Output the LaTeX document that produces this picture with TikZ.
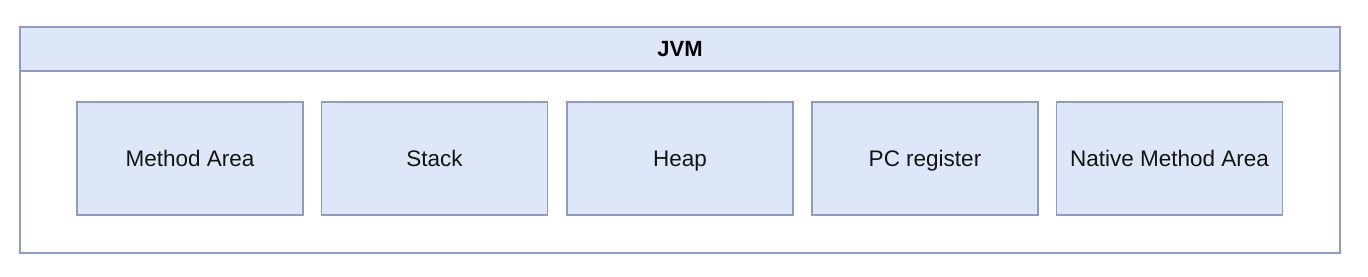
\documentclass[tikz,border=0pt]{standalone}
\usepackage{fontspec}
\setmainfont{Liberation Sans}
\definecolor{boxfill}{HTML}{DDE7F8}
\definecolor{boxline}{HTML}{8E9DBD}
\begin{document}
\begin{tikzpicture}[x=1pt,y=-1pt,
  region/.style={draw=boxline,fill=boxfill,line width=1.6pt,minimum width=226pt,minimum height=113pt,inner sep=0pt,font=\fontsize{22.5}{27}\selectfont,text=black!92,text height=20.6pt,text depth=4.5pt},
  container/.style={draw=boxline,line width=1.6pt,fill=white},
  header/.style={draw=boxline,fill=boxfill,line width=1.6pt}]
\useasboundingbox[fill=white] (0,0) rectangle (1368,276);
\draw[container] (20,27) rectangle (1340,253);
\draw[header] (20,27) rectangle (1340,71);
\node[font=\fontsize{22}{26}\selectfont\bfseries,text=black,inner sep=0pt,text height=20.2pt,text depth=4.4pt] (jvm) at (680,49) {JVM};
\node[region] (method) at (190,158.5) {Method Area};
\node[region] (stack) at (434.5,158.5) {Stack};
\node[region] (heap) at (680,158.5) {Heap};
\node[region] (pc) at (925,158.5) {PC register};
\node[region] (native) at (1169.5,158.5) {Native Method Area};
\end{tikzpicture}
\end{document}
